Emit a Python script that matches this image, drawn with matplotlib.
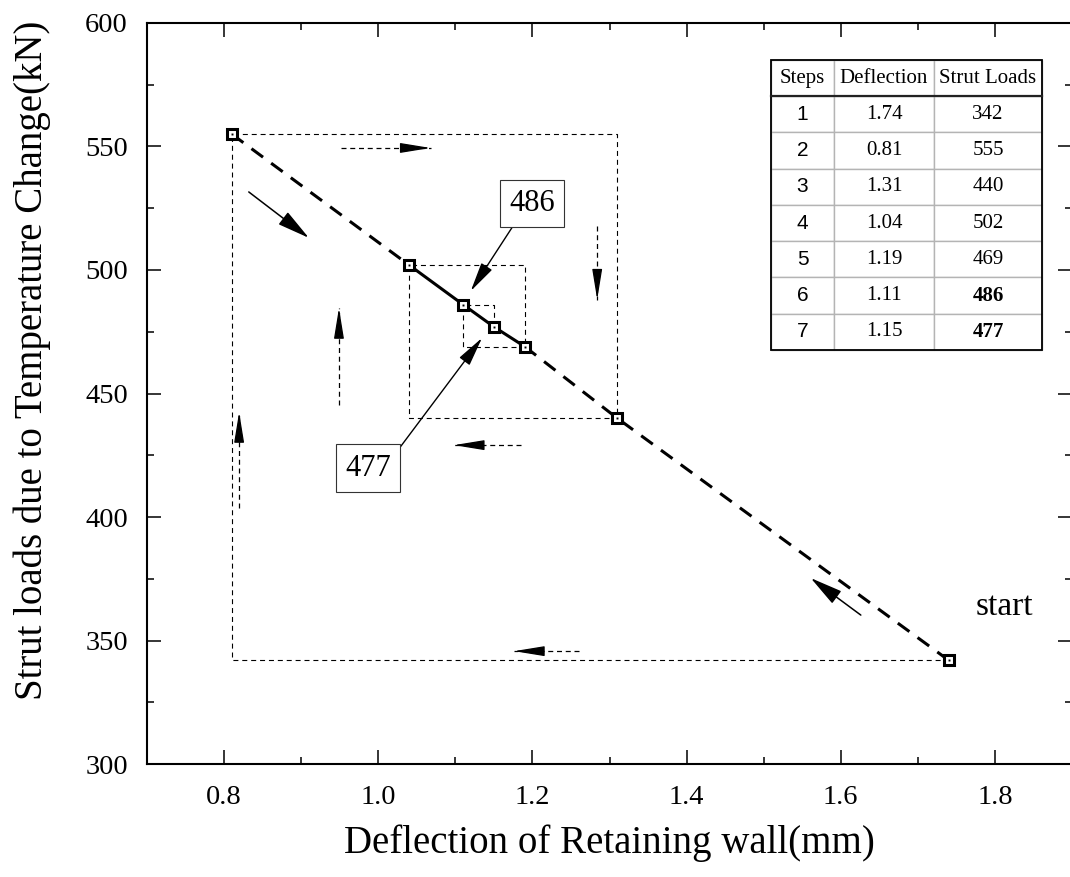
import numpy as np
import matplotlib.pyplot as plt
from matplotlib.ticker import MultipleLocator, FormatStrFormatter
from matplotlib.patches import Rectangle

plt.rcParams['font.family'] = ['Liberation Serif', 'DejaVu Serif']

# --- Data (iteration steps) ---
steps = [1, 2, 3, 4, 5, 6, 7]
deflection = [1.74, 0.81, 1.31, 1.04, 1.19, 1.11, 1.15]   # mm
strut_load = [342, 555, 440, 502, 469, 486, 477]          # kN
deflection_txt = ["1.74", "0.81", "1.31", "1.04", "1.19", "1.11", "1.15"]

# direction arrows: (x_start, y_start, x_end, y_end)
dashed_arrows = [
    (0.952, 549.4, 1.068, 549.4),
    (1.284, 518.0, 1.284, 488.0),
    (0.949, 445.3, 0.949, 484.6),
    (0.8195, 403.6, 0.8195, 442.5),
    (1.185, 429.1, 1.098, 429.1),
    (1.260, 345.7, 1.176, 345.7),
]
solid_arrows = [
    (0.832, 531.6, 0.910, 513.0),
    (1.626, 360.3, 1.561, 375.3),
]
# callouts: label, text position, arrow tip, relpos of arrow start on box
callouts = [
    ("486", (1.1995, 527.0), (1.120, 491.5), (0.2, 0.0)),
    ("477", (0.9868, 419.8), (1.1346, 472.5), (1.0, 0.8)),
]

fig = plt.figure(figsize=(10.7, 8.77), dpi=100)
ax = fig.add_axes([0.1374, 0.1288, 0.8645, 0.845])

# --- cobweb (thin dashed) path between steps ---
web_x, web_y = [deflection[0]], [strut_load[0]]
for i in range(len(steps) - 1):
    web_x += [deflection[i + 1], deflection[i + 1]]
    web_y += [strut_load[i], strut_load[i + 1]]
ax.plot(web_x, web_y, color='black', lw=0.8, dashes=(4.5, 3.5), zorder=2)

# --- main line through all points ---
order = np.argsort(deflection)
xs = np.array(deflection)[order]
ys = np.array(strut_load)[order]
ax.plot(xs[:2], ys[:2], color='black', lw=2.2, dashes=(4.7, 3.3), zorder=3)
ax.plot(xs[1:5], ys[1:5], color='black', lw=2.2, ls='-', zorder=3)
ax.plot(xs[4:], ys[4:], color='black', lw=2.2, dashes=(4.7, 3.3), zorder=3)

# markers: open square with centre dot
ax.plot(deflection, strut_load, ls='none', marker='s', ms=7.8, mfc='white',
        mec='black', mew=2.2, zorder=5)
ax.plot(deflection, strut_load, ls='none', marker='s', ms=1.4, color='black',
        mew=0, zorder=6)

# --- arrows ---
for x0, y0, x1, y1 in dashed_arrows:
    ax.plot([x0, x1], [y0, y1], color='black', lw=0.9, dashes=(4, 3), zorder=4)
    xm, ym = x0 + 0.8 * (x1 - x0), y0 + 0.8 * (y1 - y0)
    ax.annotate('', xy=(x1, y1), xytext=(xm, ym),
                arrowprops=dict(arrowstyle='-|>,head_length=1.35,head_width=0.22',
                                color='black', lw=0.9, mutation_scale=14,
                                shrinkA=0, shrinkB=0))
for x0, y0, x1, y1 in solid_arrows:
    ax.annotate('', xy=(x1, y1), xytext=(x0, y0),
                arrowprops=dict(arrowstyle='-|>,head_length=1.45,head_width=0.34',
                                color='black', lw=1.1, mutation_scale=14,
                                shrinkA=0, shrinkB=0))

for label, txy, tip, rp in callouts:
    ax.annotate(label, xy=tip, xytext=txy, fontsize=22, ha='center', va='center',
                bbox=dict(boxstyle='square,pad=0.3', fc='white', ec='#333333', lw=0.8),
                arrowprops=dict(arrowstyle='-|>,head_length=1.3,head_width=0.28',
                                color='black', lw=1.0, mutation_scale=14,
                                shrinkA=0, shrinkB=0, relpos=rp))

ax.text(1.775, 360.3, "start", fontsize=24, ha='left', va='baseline')

# --- table ---
cell_text = [[str(s), d, str(l)] for s, d, l in zip(steps, deflection_txt, strut_load)]
tbl_bbox = [0.6746, 0.5587, 0.293, 0.3914]
tbl = ax.table(cellText=cell_text, colLabels=["Steps", "Deflection", "Strut Loads"],
               colWidths=[63 / 271, 100 / 271, 108 / 271], cellLoc='center',
               bbox=tbl_bbox, zorder=8)
tbl.auto_set_font_size(False)
tbl.set_fontsize(15)
for (r, c), cell in tbl.get_celld().items():
    cell.set_edgecolor('#b4b4b4')
    cell.set_linewidth(1.0)
    cell.set_facecolor('white')
    t = cell.get_text()
    t.set_fontfamily(['Liberation Serif'])
    if r > 0 and c == 0:
        t.set_fontfamily(['Liberation Sans'])
    if r >= 6 and c == 2:
        t.set_fontweight('bold')
ax.add_patch(Rectangle((tbl_bbox[0], tbl_bbox[1]), tbl_bbox[2], tbl_bbox[3],
                       transform=ax.transAxes, fill=False, ec='black', lw=1.3, zorder=9))
hy = tbl_bbox[1] + tbl_bbox[3] * 7 / 8
ax.plot([tbl_bbox[0], tbl_bbox[0] + tbl_bbox[2]], [hy, hy], transform=ax.transAxes,
        color='#222222', lw=1.6, zorder=9)

# --- axes formatting ---
ax.set_xlim(0.7, 1.9)
ax.set_ylim(300, 600)
ax.xaxis.set_major_locator(MultipleLocator(0.2))
ax.xaxis.set_minor_locator(MultipleLocator(0.1))
ax.xaxis.set_major_formatter(FormatStrFormatter('%.1f'))
ax.yaxis.set_major_locator(MultipleLocator(50))
ax.yaxis.set_minor_locator(MultipleLocator(25))
ax.tick_params(which='both', direction='in', top=True, right=True, width=1.1)
ax.tick_params(which='major', length=10, labelsize=20.5)
ax.tick_params(which='minor', length=5)
ax.tick_params(axis='x', pad=15)
ax.tick_params(axis='y', pad=13.7)
for sp in ax.spines.values():
    sp.set_linewidth(1.5)

ax.set_xlabel("Deflection of Retaining wall(mm)", fontsize=28)
ax.set_ylabel("Strut loads due to Temperature Change(kN)", fontsize=28)
ax.xaxis.set_label_coords(0.5, -0.081)
ax.yaxis.set_label_coords(-0.104, 0.545)

plt.savefig("out.png", dpi=100)
